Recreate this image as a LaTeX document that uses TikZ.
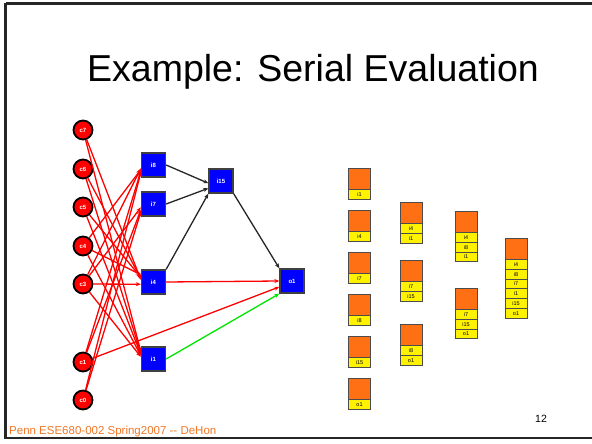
\documentclass[tikz,border=0pt]{standalone}
\usepackage{fontspec}
\setmainfont{Liberation Sans}
\usetikzlibrary{arrows.meta}
\definecolor{regorange}{RGB}{255,112,20}
\definecolor{pennorange}{RGB}{240,120,40}
\tikzset{
 inp/.style={circle,draw=black,line width=1.8pt,fill=red,minimum size=19pt,inner sep=0pt,text=white,font=\fontsize{6}{6}\selectfont\bfseries},
 gate/.style={rectangle,draw=black!75,line width=1.3pt,fill=blue,minimum size=24pt,inner sep=0pt,text=white,font=\fontsize{6}{6}\selectfont\bfseries},
 redge/.style={red,line width=1.3pt,-{Stealth[length=5pt,width=4pt]}},
 kedge/.style={black!85,line width=1.3pt,-{Stealth[length=5pt,width=4pt]}},
 gedge/.style={green!90!black,line width=1.3pt,-{Stealth[length=5pt,width=4pt]}},
 regtop/.style={rectangle,draw=black!70,line width=1pt,fill=regorange,minimum width=22pt,minimum height=21pt,inner sep=0pt},
 regslot/.style={rectangle,draw=black!70,line width=1pt,fill=yellow,minimum width=22pt,minimum height=9.8pt,inner sep=0pt,font=\fontsize{5.5}{5.5}\selectfont},
}
\newcommand\regstack[4]{%
 \node[regtop,anchor=north] (#1) at (#2,#3) {};
 \foreach \s [count=\k] in {#4} {\node[regslot,anchor=north] (#1-\k) at (#2,#3+21+\k*9.8-9.8) {\s};}
}
\begin{document}
\begin{tikzpicture}[x=1pt,y=-1pt]
\useasboundingbox (0,0) rectangle (592,444);
\fill[white] (0,0) rectangle (592,444);
\draw[black!85,line width=2.2pt] (5.5,3.5) -- (600,3.5) (5.5,3.5) -- (5.5,438) -- (600,438);
\node[font=\fontsize{37.5}{37.5}\selectfont] (title) at (313,72) {Example: Serial Evaluation};
% inputs
\node[inp] (c7) at (83,130) {c7};
\node[inp] (c6) at (83,169) {c6};
\node[inp] (c5) at (83,207) {c5};
\node[inp] (c4) at (83,246) {c4};
\node[inp] (c3) at (83,284) {c3};
\node[inp] (c1) at (83,362) {c1};
\node[inp] (c0) at (83,400) {c0};
% gates
\node[gate] (i8) at (153.5,165) {i8};
\node[gate] (i7) at (153.5,204) {i7};
\node[gate] (i4) at (153.5,282) {i4};
\node[gate] (i1) at (153.5,359) {i1};
\node[gate] (i15) at (221,181) {i15};
\node[gate] (o1) at (292,281) {o1};
% red edges into i8, i7
\draw[redge] (c4) -- (i8.200);
\draw[redge] (c3) -- (i8.195);
\draw[redge] (c1) -- (i8.205);
\draw[redge] (c0) -- (i8.210);
\draw[redge] (c3) -- (i7.195);
\draw[redge] (c1) -- (i7.205);
\draw[redge] (c0) -- (i7.212);
% red edges into i4
\draw[redge] (c7) -- (i4.170);
\draw[redge] (c6) -- (i4.165);
\draw[redge] (c5) -- (i4.160);
\draw[redge] (c4) -- (i4.150);
\draw[redge] (c3) -- (i4.190);
% red edges into i1
\draw[redge] (c7) -- (i1.150);
\draw[redge] (c6) -- (i1.155);
\draw[redge] (c5) -- (i1.160);
\draw[redge] (c4) -- (i1.165);
\draw[redge] (c3) -- (i1.170);
% to i15 and o1
\draw[kedge] (i8.east) -- (i15.190);
\draw[kedge] (i7.east) -- (i15.210);
\draw[kedge] (i4.north east) -- (i15.south west);
\draw[kedge] (i15.south east) -- (o1.north west);
\draw[redge] (i4.east) -- (o1.west);
\draw[redge] (c1) -- (o1.205);
\draw[gedge] (i1.east) -- (o1.south west);
% register stacks
\regstack{ra}{359.5}{168}{i1}
\regstack{rb}{359.5}{210}{i4}
\regstack{rc}{359.5}{252}{i7}
\regstack{rd}{359.5}{294}{i8}
\regstack{re}{359.5}{336}{i15}
\regstack{rf}{359.5}{378}{o1}
\regstack{rg}{411}{202}{i4,i1}
\regstack{rh}{411}{260}{i7,i15}
\regstack{ri}{411}{324}{i8,o1}
\regstack{rj}{466}{211}{i4,i8,i1}
\regstack{rk}{466}{288}{i7,i15,o1}
\regstack{rl}{516}{238}{i4,i8,i7,i1,i15,o1}
% footer
\node[anchor=base west,text=pennorange,font=\fontsize{11.5}{11.5}\selectfont,inner sep=0pt] (foot) at (9,434.5) {Penn ESE680-002 Spring2007 {-}{-} DeHon};
\node[anchor=base,font=\fontsize{10.5}{10.5}\selectfont,inner sep=0pt] (pg) at (541,422) {12};
\end{tikzpicture}
\end{document}
